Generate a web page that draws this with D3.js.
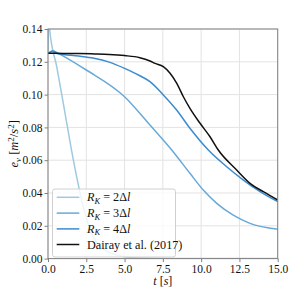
<!DOCTYPE html>
<html><head><meta charset="utf-8">
<script src="https://cdn.jsdelivr.net/npm/d3@7"></script>
<style>body{margin:0;background:#fff}svg{display:block}</style>
</head><body>
<script>
// ---- data ----
const xTicks = [0, 2.5, 5, 7.5, 10, 12.5, 15];
const yTicks = [0, 0.02, 0.04, 0.06, 0.08, 0.10, 0.12, 0.14];

const tR2 = [0, 0.04, 0.1, 0.57, 1.0, 1.5, 1.87, 2.3, 2.85, 3.4, 4.49, 6.0, 8.0, 15];
const vR2 = [0.125, 0.148, 0.1405, 0.117, 0.0947, 0.068, 0.05, 0.0317, 0.0154, 0.0073, 0.0022, 0.0003, 0.0, 0.0];

const tR3 = [0, 0.3, 0.6, 1, 2.5, 5, 6.66, 8.08, 9.27, 10.14, 11.02, 12.1, 13.19, 15];
const vR3 = [0.125, 0.1268, 0.1255, 0.1235, 0.115, 0.0987, 0.0814, 0.0662, 0.052, 0.0418, 0.0337, 0.0265, 0.0215, 0.0179];

const tR4 = [0, 0.3, 0.6, 1, 2, 3, 4, 5, 6, 6.66, 7.53, 8.4, 9.27, 10.47, 11.67, 12.76, 13.85, 15];
const vR4 = [0.125, 0.1265, 0.125, 0.1245, 0.1235, 0.1222, 0.1198, 0.116, 0.1115, 0.1079, 0.0998, 0.0906, 0.0795, 0.0662, 0.056, 0.0479, 0.0408, 0.0347];

const tDa = [0, 1, 2, 3, 4, 5, 6, 6.66, 7.0, 7.53, 7.97, 8.4, 8.84, 9.27, 9.93, 10.58, 11.12, 12.32, 13.19, 14.06, 15];
const vDa = [0.1252, 0.1251, 0.125, 0.1248, 0.1245, 0.1238, 0.1225, 0.1205, 0.119, 0.117, 0.113, 0.107, 0.0987, 0.0916, 0.0825, 0.0743, 0.0662, 0.054, 0.0459, 0.0408, 0.0357];

// ---- layout ----
const W = 299, H = 289;
const m = {l: 48, r: 21.3, t: 29, b: 30.4};
const svg = d3.select("body").append("svg").attr("width", W).attr("height", H);
const x = d3.scaleLinear().domain([0, 15]).range([m.l, W - m.r]);
const y = d3.scaleLinear().domain([0, 0.14]).range([H - m.b, m.t]);
const FONT = "Liberation Serif";
const fs = 11.5;

// grid
const g = svg.append("g");
g.selectAll(".gx").data(xTicks).join("line")
  .attr("x1", d => x(d)).attr("x2", d => x(d)).attr("y1", y(0)).attr("y2", y(0.14))
  .attr("stroke", "#e3e3e3").attr("stroke-width", 1);
g.selectAll(".gy").data(yTicks).join("line")
  .attr("y1", d => y(d)).attr("y2", d => y(d)).attr("x1", x(0)).attr("x2", x(15))
  .attr("stroke", "#e3e3e3").attr("stroke-width", 1);

// clip
svg.append("clipPath").attr("id", "clip").append("rect")
  .attr("x", x(0)).attr("y", y(0.14)).attr("width", x(15) - x(0)).attr("height", y(0) - y(0.14));

const line = d3.line().x(d => x(d[0])).y(d => y(d[1])).curve(d3.curveMonotoneX);
const zip = (a, b) => a.map((v, i) => [v, b[i]]);
const series = [
  {data: zip(tR2, vR2), color: "#9ecae1"},
  {data: zip(tR3, vR3), color: "#67aad9"},
  {data: zip(tR4, vR4), color: "#3b8bd0"},
  {data: zip(tDa, vDa), color: "#111111"}
];
const lg = svg.append("g").attr("clip-path", "url(#clip)");
series.forEach(s => {
  lg.append("path").attr("d", line(s.data)).attr("fill", "none")
    .attr("stroke", s.color).attr("stroke-width", 1.5).attr("stroke-linejoin", "round");
});

// axes
const xAxis = d3.axisBottom(x).tickValues(xTicks).tickFormat(d3.format(".1f")).tickSizeOuter(0).tickSize(3.5).tickPadding(1.5);
const yAxis = d3.axisLeft(y).tickValues(yTicks).tickFormat(d3.format(".2f")).tickSizeOuter(0).tickSize(3.5).tickPadding(2);
const gx = svg.append("g").attr("transform", `translate(0,${y(0)})`).call(xAxis);
const gy = svg.append("g").attr("transform", `translate(${x(0)},0)`).call(yAxis);
[gx, gy].forEach(a => {
  a.attr("font-family", FONT).attr("font-size", fs);
  a.select(".domain").remove();
  a.selectAll("line").attr("stroke", "#808080");
  a.selectAll("text").attr("font-family", FONT).attr("font-size", fs).attr("fill", "#111");
});
gx.selectAll("text").attr("dy", "0.8em");
// frame
svg.append("rect").attr("x", x(0)).attr("y", y(0.14)).attr("width", x(15) - x(0)).attr("height", y(0) - y(0.14))
  .attr("fill", "none").attr("stroke", "#808080").attr("stroke-width", 1);

// axis labels
const xl = svg.append("text").attr("x", (x(0) + x(15)) / 2).attr("y", 284.5)
  .attr("text-anchor", "middle").attr("font-family", FONT).attr("font-size", 12).attr("fill", "#111");
xl.append("tspan").attr("font-style", "italic").text("t");
xl.append("tspan").text(" [");
xl.append("tspan").attr("font-style", "italic").text("s");
xl.append("tspan").text("]");

const yfs = 12.5;
const yl = svg.append("text").attr("transform", `translate(18,${(y(0) + y(0.14)) / 2}) rotate(-90)`)
  .attr("text-anchor", "middle").attr("font-family", FONT).attr("font-size", yfs).attr("fill", "#111");
yl.append("tspan").attr("font-style", "italic").text("e");
yl.append("tspan").attr("font-style", "italic").attr("font-size", yfs * 0.72).attr("dy", 2.5).text("v");
yl.append("tspan").attr("dy", -2.5).text(" [");
yl.append("tspan").attr("font-style", "italic").text("m");
yl.append("tspan").attr("font-size", yfs * 0.72).attr("dy", -4.5).text("2");
yl.append("tspan").attr("dy", 4.5).text("/");
yl.append("tspan").attr("font-style", "italic").text("s");
yl.append("tspan").attr("font-size", yfs * 0.72).attr("dy", -4.5).text("2");
yl.append("tspan").attr("dy", 4.5).text("]");

// legend
const legNums = ["2", "3", "4", null];
const lfs = 12.2;
const leg = svg.append("g");
leg.append("rect").attr("x", 52.5).attr("y", 189).attr("width", 123).attr("height", 68)
  .attr("rx", 2.5).attr("fill", "rgba(255,255,255,0.8)").attr("stroke", "#d0d0d0").attr("stroke-width", 1);
const legY = [197.3, 213.1, 228.9, 244.5];
series.forEach((s, i) => {
  leg.append("line").attr("x1", 56.7).attr("x2", 79.3).attr("y1", legY[i]).attr("y2", legY[i])
    .attr("stroke", s.color).attr("stroke-width", 1.5);
  const t = leg.append("text").attr("x", 87).attr("y", legY[i] + 4)
    .attr("font-family", FONT).attr("font-size", lfs).attr("fill", "#111");
  if (legNums[i]) {
    t.append("tspan").attr("font-style", "italic").text("R");
    t.append("tspan").attr("font-style", "italic").attr("font-size", lfs * 0.7).attr("dy", 2.5).text("K");
    t.append("tspan").attr("dy", -2.5).text(" = " + legNums[i] + "Δ");
    t.append("tspan").attr("font-style", "italic").text("l");
  } else {
    t.text("Dairay et al. (2017)");
  }
});
</script>
</body></html>
